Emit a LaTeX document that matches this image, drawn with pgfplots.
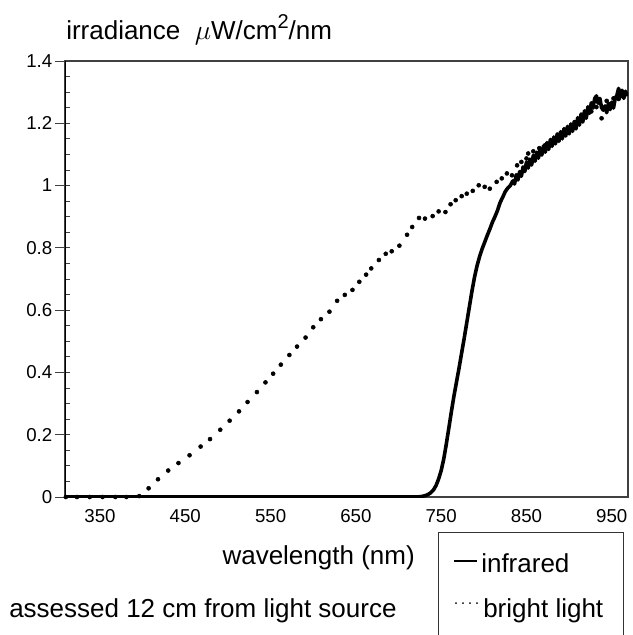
\documentclass[border=0pt]{standalone}
\usepackage{pgfplots}
\pgfplotsset{compat=1.18}
\usepackage{fontspec}
\setmainfont{Liberation Sans}

\pgfplotstableread{
x y
309 0
400 0
500 0
600 0
700 0
722 0
728 0.002
733 0.006
737 0.012
741 0.023
744 0.037
747 0.058
750 0.085
753 0.122
756 0.17
759 0.222
762 0.275
765 0.325
768 0.37
771 0.415
774 0.463
777 0.51
780 0.56
783 0.61
786 0.66
789 0.705
792 0.742
795 0.772
798 0.797
801 0.818
804 0.84
807 0.86
810 0.882
813 0.9
816 0.92
819 0.945
822 0.962
825 0.98
828 0.992
831 1.0
834 1.015
836 1.005
838 1.035
840 1.018
842 1.045
844 1.03
846 1.06
848 1.045
850 1.075
852 1.056
854 1.085
856 1.066
858 1.097
860 1.078
862 1.107
864 1.088
866 1.12
868 1.098
870 1.128
872 1.107
874 1.138
876 1.116
878 1.148
880 1.126
882 1.156
884 1.134
886 1.166
888 1.142
890 1.173
892 1.15
894 1.183
896 1.159
898 1.19
900 1.166
902 1.198
904 1.174
906 1.206
908 1.182
910 1.218
912 1.194
914 1.23
916 1.204
918 1.24
920 1.216
922 1.253
924 1.232
926 1.266
928 1.249
930 1.28
932 1.288
934 1.264
936 1.28
938 1.25
940 1.242
942 1.256
944 1.234
946 1.264
948 1.244
950 1.268
952 1.249
954 1.28
956 1.29
958 1.312
960 1.284
962 1.306
964 1.28
966 1.303
968 1.287
}\infrared

\pgfplotstableread{
x y
310 0
323 0
338 0
353 0
368 0
381 0
396 0.003
407 0.028
418 0.057
430 0.085
442 0.109
455 0.134
468 0.162
479 0.186
491 0.216
502 0.245
513 0.275
523 0.305
534 0.337
544 0.368
553 0.396
562 0.425
572 0.456
581 0.483
591 0.512
600 0.545
609 0.571
619 0.595
628 0.630
637 0.649
646 0.665
654 0.691
662 0.714
668 0.734
677 0.761
685 0.781
692 0.789
701 0.807
710 0.842
716 0.867
724 0.896
731 0.894
740 0.902
747 0.917
755 0.915
761 0.94
767 0.953
774 0.966
780 0.974
787 0.983
794 1.001
801 0.996
807 0.99
815 1.012
821 1.023
827 1.039
833 1.033
839 1.065
844 1.076
850 1.087
852 1.103
858 1.11
865 1.12
872 1.13
879 1.14
886 1.152
893 1.163
900 1.178
907 1.19
914 1.21
920 1.228
926 1.238
932 1.252
936 1.268
938 1.216
944 1.272
948 1.262
952 1.28
958 1.278
964 1.288
}\bright

\begin{document}
\begin{tikzpicture}[x=0.75pt,y=-0.75pt]
\path[use as bounding box] (0,0) rectangle (632,635);
\begin{axis}[
  at={(48.75pt,-372.75pt)}, anchor=south west, scale only axis,
  width=422.25pt, height=327pt,
  xmin=309, xmax=969, ymin=0, ymax=1.4,
  xtick={350,450,...,950},
  ytick={0,0.2,0.4,0.6,0.8,1,1.2,1.4},
  minor y tick num=3,
  tick style={black!75, line width=0.6pt},
  xtick style={draw=none},
  ytick pos=left,
  tick align=inside,
  major tick length=11.25pt,
  minor tick length=3.75pt,
  major tick style={xshift=-7.5pt},
  axis line style={black!75, line width=0.8pt},
  /pgf/number format/assume math mode=true,
  xticklabel style={font=\fontsize{14}{15}\selectfont, anchor=center, yshift=-14.5pt},
  yticklabel style={font=\fontsize{14}{15}\selectfont, xshift=-6pt},
]
\addplot[black, line width=2.7pt, line join=round] table {\infrared};
\addplot[only marks, mark=*, mark size=1.5pt, black] table {\bright};
\draw[black, line width=1.6pt] (rel axis cs:0,0) -- (rel axis cs:0,1);
\end{axis}
\node[anchor=base west, inner sep=0pt, font=\fontsize{19.5}{22}\selectfont] at (66,40)
  {irradiance\ \ $\mu$W/cm\raisebox{0.45em}{\fontsize{15}{15}\selectfont 2}/nm};
\node[anchor=base east, inner sep=0pt, font=\fontsize{19.5}{22}\selectfont] at (415,564) {wavelength (nm)};
\node[anchor=base west, inner sep=0pt, font=\fontsize{19.5}{22}\selectfont] at (9,617) {assessed 12 cm from light source};
% legend
\draw[black!80, line width=0.7pt] (438,640) -- (438,532) -- (623,532) -- (623,640);
\draw[black, line width=0.9pt] (454,561) -- (477,561);
\foreach \px in {456,463,470,477} \fill[black] (\px,603) circle (1.0);
\node[anchor=base west, inner sep=0pt, font=\fontsize{19.5}{22}\selectfont] at (481,572) {infrared};
\node[anchor=base west, inner sep=0pt, font=\fontsize{19.5}{22}\selectfont] at (483,617) {bright light};
\end{tikzpicture}
\end{document}
